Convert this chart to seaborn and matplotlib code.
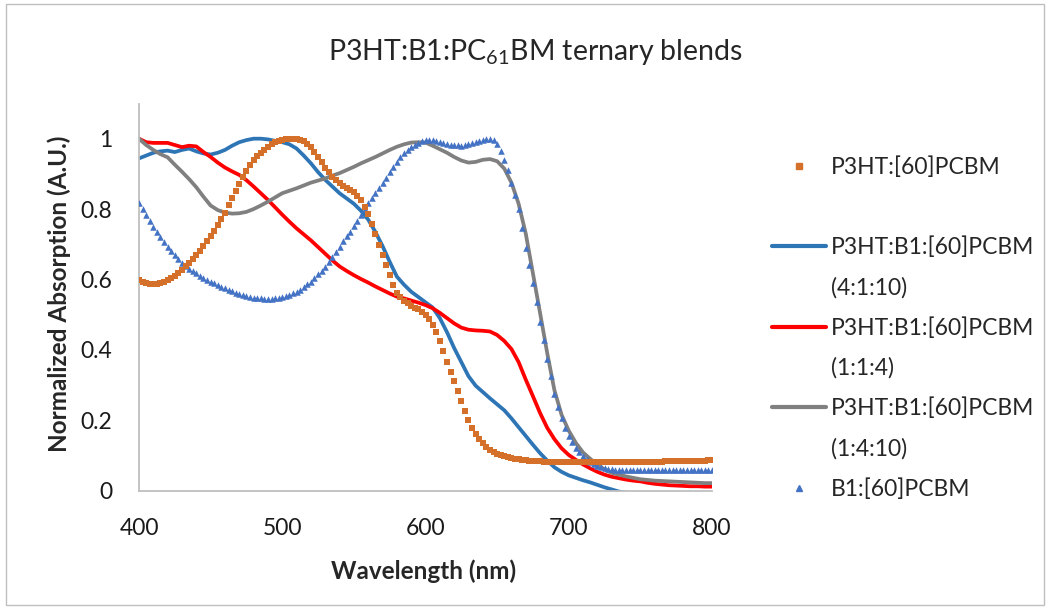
import numpy as np
import pandas as pd
import seaborn as sns
import matplotlib.pyplot as plt
from matplotlib.lines import Line2D
from matplotlib.patches import Rectangle

# wavelength grids (nm); line series read every 5 nm, marker series every 2.5 nm
wavelength = np.arange(400, 805, 5)
wavelength_fine = np.arange(400, 800.1, 2.5)

p3ht_pcbm = [
    0.598, 0.593, 0.590, 0.588, 0.588, 0.588, 0.590, 0.593, 0.598, 0.603,
    0.610, 0.618, 0.627, 0.637, 0.648, 0.659, 0.670, 0.682, 0.695, 0.708,
    0.722, 0.738, 0.755, 0.772, 0.790, 0.811, 0.832, 0.852, 0.872, 0.891,
    0.908, 0.924, 0.938, 0.950, 0.960, 0.969, 0.977, 0.984, 0.990, 0.994,
    0.997, 0.999, 1.000, 1.000, 1.000, 0.997, 0.993, 0.985, 0.975, 0.962,
    0.948, 0.933, 0.918, 0.904, 0.892, 0.882, 0.873, 0.866, 0.860, 0.854,
    0.848, 0.838, 0.825, 0.807, 0.785, 0.758, 0.728, 0.699, 0.670, 0.640,
    0.612, 0.585, 0.562, 0.549, 0.540, 0.532, 0.525, 0.520, 0.515, 0.508,
    0.500, 0.487, 0.470, 0.450, 0.425, 0.396, 0.365, 0.338, 0.310, 0.282,
    0.255, 0.227, 0.200, 0.178, 0.160, 0.146, 0.135, 0.125, 0.116, 0.110,
    0.105, 0.101, 0.097, 0.094, 0.092, 0.090, 0.089, 0.087, 0.086, 0.085,
    0.084, 0.083, 0.083, 0.082, 0.082, 0.081, 0.081, 0.080, 0.080, 0.080,
    0.080, 0.080, 0.080, 0.080, 0.080, 0.080, 0.080, 0.080, 0.080, 0.080,
    0.080, 0.080, 0.080, 0.080, 0.080, 0.080, 0.080, 0.080, 0.080, 0.080,
    0.081, 0.081, 0.081, 0.082, 0.082, 0.082, 0.082, 0.083, 0.083, 0.083,
    0.083, 0.084, 0.084, 0.084, 0.084, 0.085, 0.085, 0.085, 0.085, 0.086,
    0.086,
]
b1_pcbm = [
    0.816, 0.800, 0.783, 0.766, 0.750, 0.735, 0.720, 0.706, 0.693, 0.680,
    0.668, 0.657, 0.647, 0.638, 0.630, 0.623, 0.617, 0.611, 0.605, 0.599,
    0.594, 0.589, 0.584, 0.579, 0.575, 0.570, 0.566, 0.562, 0.558, 0.555,
    0.552, 0.550, 0.548, 0.547, 0.546, 0.545, 0.545, 0.545, 0.546, 0.547,
    0.551, 0.553, 0.557, 0.561, 0.565, 0.571, 0.578, 0.586, 0.594, 0.604,
    0.614, 0.625, 0.636, 0.649, 0.663, 0.678, 0.693, 0.708, 0.722, 0.736,
    0.751, 0.767, 0.784, 0.800, 0.816, 0.831, 0.845, 0.859, 0.873, 0.889,
    0.905, 0.920, 0.935, 0.947, 0.958, 0.967, 0.975, 0.982, 0.988, 0.992,
    0.995, 0.996, 0.996, 0.994, 0.990, 0.987, 0.985, 0.983, 0.982, 0.981,
    0.980, 0.982, 0.984, 0.987, 0.990, 0.993, 0.996, 0.999, 1.000, 0.996,
    0.985, 0.965, 0.940, 0.910, 0.875, 0.840, 0.800, 0.745, 0.690, 0.640,
    0.590, 0.535, 0.480, 0.428, 0.375, 0.325, 0.275, 0.238, 0.205, 0.178,
    0.155, 0.137, 0.122, 0.109, 0.098, 0.089, 0.081, 0.076, 0.071, 0.067,
    0.064, 0.062, 0.060, 0.059, 0.059, 0.059, 0.059, 0.059, 0.059, 0.059,
    0.059, 0.059, 0.059, 0.059, 0.059, 0.059, 0.059, 0.059, 0.059, 0.059,
    0.059, 0.059, 0.059, 0.059, 0.059, 0.059, 0.059, 0.059, 0.059, 0.059,
    0.059,
]
blend_4_1_10 = [
    0.944, 0.952, 0.960, 0.964, 0.966, 0.962, 0.968, 0.972, 0.964, 0.958,
    0.955, 0.960, 0.968, 0.980, 0.990, 0.996, 1.000, 1.000, 0.998, 0.994,
    0.990, 0.984, 0.972, 0.952, 0.930, 0.905, 0.883, 0.864, 0.845, 0.830,
    0.815, 0.795, 0.770, 0.735, 0.695, 0.650, 0.608, 0.585, 0.565, 0.550,
    0.535, 0.520, 0.490, 0.450, 0.405, 0.365, 0.325, 0.298, 0.280, 0.262,
    0.245, 0.228, 0.205, 0.180, 0.155, 0.130, 0.106, 0.085, 0.066, 0.053,
    0.043, 0.036, 0.029, 0.023, 0.016, 0.009, 0.003, -0.003, -0.006, -0.008,
    -0.009, -0.010, -0.010, -0.010, -0.010, -0.010, -0.010, -0.010, -0.010, -0.010,
    -0.010,
]
blend_1_1_4 = [
    1.000, 0.990, 0.988, 0.988, 0.988, 0.982, 0.976, 0.980, 0.978, 0.962,
    0.948, 0.932, 0.918, 0.907, 0.897, 0.882, 0.864, 0.845, 0.826, 0.805,
    0.784, 0.764, 0.745, 0.728, 0.711, 0.692, 0.673, 0.654, 0.637, 0.624,
    0.612, 0.601, 0.591, 0.580, 0.570, 0.560, 0.551, 0.546, 0.540, 0.534,
    0.527, 0.518, 0.505, 0.490, 0.475, 0.463, 0.457, 0.455, 0.454, 0.452,
    0.442, 0.425, 0.402, 0.365, 0.315, 0.268, 0.220, 0.178, 0.146, 0.120,
    0.101, 0.087, 0.074, 0.063, 0.053, 0.045, 0.039, 0.035, 0.031, 0.028,
    0.026, 0.022, 0.019, 0.017, 0.015, 0.014, 0.013, 0.012, 0.012, 0.011,
    0.011,
]
blend_1_4_10 = [
    1.000, 0.982, 0.968, 0.956, 0.947, 0.926, 0.906, 0.885, 0.862, 0.835,
    0.810, 0.797, 0.790, 0.787, 0.788, 0.792, 0.800, 0.810, 0.821, 0.833,
    0.845, 0.852, 0.859, 0.867, 0.875, 0.881, 0.887, 0.895, 0.902, 0.911,
    0.920, 0.930, 0.939, 0.948, 0.958, 0.968, 0.977, 0.984, 0.989, 0.990,
    0.989, 0.980, 0.970, 0.960, 0.948, 0.938, 0.932, 0.934, 0.940, 0.942,
    0.936, 0.915, 0.875, 0.815, 0.730, 0.617, 0.504, 0.390, 0.285, 0.215,
    0.170, 0.135, 0.108, 0.090, 0.073, 0.060, 0.050, 0.045, 0.040, 0.036,
    0.032, 0.030, 0.028, 0.027, 0.026, 0.025, 0.024, 0.023, 0.022, 0.021,
    0.021,
]

lines_df = pd.DataFrame({
    "wl": wavelength,
    "b_4_1_10": blend_4_1_10,
    "b_1_1_4": blend_1_1_4,
    "b_1_4_10": blend_1_4_10,
})
marks_df = pd.DataFrame({
    "wl": wavelength_fine,
    "p3ht_pcbm": p3ht_pcbm,
    "b1_pcbm": b1_pcbm,
})

sns.set_style("white")
plt.rcParams["font.family"] = ["Lato", "DejaVu Sans"]
plt.rcParams["mathtext.fontset"] = "custom"
plt.rcParams["mathtext.rm"] = "Lato"
plt.rcParams["mathtext.it"] = "Lato"
plt.rcParams["mathtext.bf"] = "Lato:bold"

c_orange = "#D5702A"
c_blue = "#2E75B6"
c_red = "#FF0000"
c_gray = "#808080"
c_tri = "#4472C4"

fig = plt.figure(figsize=(10.5, 6.08), dpi=100)
ax = fig.add_axes([139 / 1050, 1 - 490.5 / 608, 573 / 1050, 387 / 608])

sns.lineplot(data=lines_df, x="wl", y="b_4_1_10", color=c_blue, lw=2.7, ax=ax)
sns.lineplot(data=lines_df, x="wl", y="b_1_1_4", color=c_red, lw=2.7, ax=ax)
sns.lineplot(data=lines_df, x="wl", y="b_1_4_10", color=c_gray, lw=2.7, ax=ax)
sns.scatterplot(data=marks_df, x="wl", y="b1_pcbm", color=c_tri, marker="^", s=22,
                linewidth=0, ax=ax, zorder=3)
sns.scatterplot(data=marks_df, x="wl", y="p3ht_pcbm", color=c_orange, marker="s", s=16,
                linewidth=0, ax=ax, zorder=3)

ax.set_xlim(400, 800)
ax.set_ylim(0, 1.1)
ax.set_xticks([400, 500, 600, 700, 800])
ax.set_yticks([0, 0.2, 0.4, 0.6, 0.8, 1.0])
ax.set_yticklabels([f"{v:g}" for v in [0, 0.2, 0.4, 0.6, 0.8, 1.0]])
ax.tick_params(axis="both", length=0, labelsize=16.5, colors="#1a1a1a")
ax.tick_params(axis="y", pad=19)
ax.tick_params(axis="x", pad=20)
for side in ["top", "right"]:
    ax.spines[side].set_visible(False)
for side in ["left", "bottom"]:
    ax.spines[side].set_color("#BFBFBF")
    ax.spines[side].set_linewidth(1.3)
ax.set_xlabel("")
ax.set_ylabel("")

fig.text(424 / 1050, 1 - 571 / 608, "Wavelength (nm)", fontsize=17.5,
         fontweight="bold", ha="center", va="center")
fig.text(59 / 1050, 1 - 294 / 608, "Normalized Absorption (A.U.)", fontsize=17.5,
         fontweight="bold", ha="center", va="center", rotation=90)
fig.text(535 / 1050, 1 - 52 / 608, "P3HT:B1:PC$_{61}$BM ternary blends",
         fontsize=20.5, ha="center", va="center")

blank = Line2D([], [], linestyle="none")
handles = [
    Line2D([], [], linestyle="none", marker="s", color=c_orange, markersize=4.5),
    blank,
    Line2D([], [], color=c_blue, lw=3),
    blank,
    Line2D([], [], color=c_red, lw=3),
    blank,
    Line2D([], [], color=c_gray, lw=3),
    blank,
    Line2D([], [], linestyle="none", marker="^", color=c_tri, markersize=5),
]
labels = ["P3HT:[60]PCBM", "", "P3HT:B1:[60]PCBM", "(4:1:10)",
          "P3HT:B1:[60]PCBM", "(1:1:4)", "P3HT:B1:[60]PCBM", "(1:4:10)",
          "B1:[60]PCBM"]
ax.legend(handles, labels, loc="upper left", bbox_to_anchor=(772 / 1050, 1 - 156 / 608),
          bbox_transform=fig.transFigure, frameon=False, fontsize=16.5,
          handlelength=2.36, handletextpad=0.22, labelspacing=0.82,
          borderpad=0, borderaxespad=0)

fig.patches.append(Rectangle((6 / 1050, 3 / 608), 1038 / 1050, 601 / 608,
                             transform=fig.transFigure, fill=False,
                             edgecolor="#BFBFBF", lw=1))

fig.savefig("out.png", dpi=100)
